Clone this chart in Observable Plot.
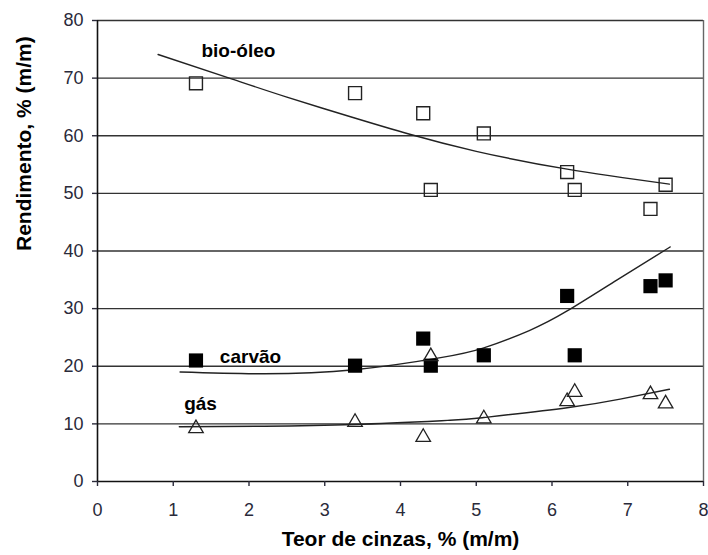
<!DOCTYPE html>
<html><head><meta charset="utf-8">
<script src="https://cdn.jsdelivr.net/npm/d3@7"></script>
<script src="https://cdn.jsdelivr.net/npm/@observablehq/plot@0.6"></script>
<style>body{margin:0;background:#fff} svg{font-family:"Liberation Sans",Arial,sans-serif}</style>
</head><body><div id="chart"></div>
<script>
// Observed data (ash content, % m/m)
const ashX = [1.3, 3.4, 4.3, 4.4, 5.1, 6.2, 6.3, 7.3, 7.5];
const bioOleo = [69.1, 67.4, 63.9, 50.6, 60.4, 53.7, 50.6, 47.3, 51.5];
const carvao = [21.0, 20.1, 24.8, 20.1, 21.9, 32.2, 21.9, 33.9, 34.9];
const gasX = [1.3, 3.4, 4.3, 4.4, 5.1, 6.2, 6.3, 7.3, 7.5];
const gas = [9.2, 10.3, 7.7, 21.7, 10.9, 13.9, 15.5, 15.1, 13.5];

// Trend curves
const bioCurveX = [0.8, 1.74, 2.5, 3.34, 4.11, 5.0, 6.2, 7.55];
const bioCurveY = [74.1, 70.0, 66.7, 63.3, 60.3, 57.3, 54.2, 51.6];
const carvaoCurveX = [1.09, 2.2, 3.39, 4.53, 5.1, 5.7, 6.2, 6.86, 7.56];
const carvaoCurveY = [19.0, 18.7, 19.4, 21.5, 23.2, 26.2, 29.6, 35.0, 40.7];
const gasCurveX = [1.08, 2.2, 3.39, 4.62, 5.1, 6.2, 6.9, 7.55];
const gasCurveY = [9.5, 9.6, 9.9, 10.6, 11.1, 12.8, 14.3, 16.0];

// Series labels
const labelText = ["bio-óleo", "carvão", "gás"];
const labelX = [1.86, 2.02, 1.36];
const labelY = [74.8, 21.7, 13.5];

const xTicks = [0, 1, 2, 3, 4, 5, 6, 7, 8];
const yTicks = [0, 10, 20, 30, 40, 50, 60, 70, 80];
const xTitle = "Teor de cinzas, % (m/m)";
const yTitle = "Rendimento, % (m/m)";

const pts = (xs, ys) => xs.map((x, i) => ({x, y: ys[i]}));
const labels = labelText.map((t, i) => ({t, x: labelX[i], y: labelY[i]}));

const chart = Plot.plot({
  width: 708, height: 555,
  marginLeft: 97, marginRight: 5, marginTop: 20, marginBottom: 74,
  x: {domain: [0, 8]},
  y: {domain: [0, 80]},
  style: {fontFamily: '"Liberation Sans", Arial, sans-serif', background: "#fff"},
  marks: [
    Plot.ruleY(yTicks.filter(d => d > 0), {stroke: "#333", strokeWidth: 1.4}),
    Plot.ruleX([8], {stroke: "#666", strokeWidth: 1.4}),
    Plot.ruleY([0], {stroke: "#111", strokeWidth: 1.6}),
    Plot.ruleX([0], {stroke: "#111", strokeWidth: 1.6}),
    Plot.axisX({ticks: xTicks, tickSize: 5, tickPadding: 17, fontSize: 18, color: "#2a2a3a", label: null, tickFormat: d => d, strokeWidth: 1.4}),
    Plot.axisY({ticks: yTicks, tickSize: 5, tickPadding: 9, fontSize: 18, color: "#2a2a3a", label: null, tickFormat: d => d, strokeWidth: 1.4}),
    Plot.line(pts(bioCurveX, bioCurveY), {x: "x", y: "y", curve: "natural", stroke: "#222", strokeWidth: 1.4}),
    Plot.line(pts(carvaoCurveX, carvaoCurveY), {x: "x", y: "y", curve: "natural", stroke: "#222", strokeWidth: 1.4}),
    Plot.line(pts(gasCurveX, gasCurveY), {x: "x", y: "y", curve: "natural", stroke: "#222", strokeWidth: 1.4}),
    Plot.dot(pts(ashX, bioOleo), {x: "x", y: "y", symbol: "square", r: 7.3, fill: "none", stroke: "#222", strokeWidth: 1.4}),
    Plot.dot(pts(ashX, carvao), {x: "x", y: "y", symbol: "square", r: 8, fill: "#000", stroke: "#000", strokeWidth: 0}),
    Plot.dot(pts(gasX, gas), {x: "x", y: "y", symbol: "triangle", r: 5.4, fill: "none", stroke: "#222", strokeWidth: 1.3}),
    Plot.text(labels, {x: "x", y: "y", text: "t", fontSize: 19, fontWeight: "bold", fill: "#000"}),
    Plot.text([xTitle], {frameAnchor: "bottom", dy: 64, fontSize: 21, fontWeight: "bold", fill: "#000"}),
    Plot.text([yTitle], {frameAnchor: "left", dx: -73, rotate: -90, fontSize: 21, fontWeight: "bold", fill: "#000"})
  ]
});
document.getElementById("chart").appendChild(chart);
</script>
</body></html>
